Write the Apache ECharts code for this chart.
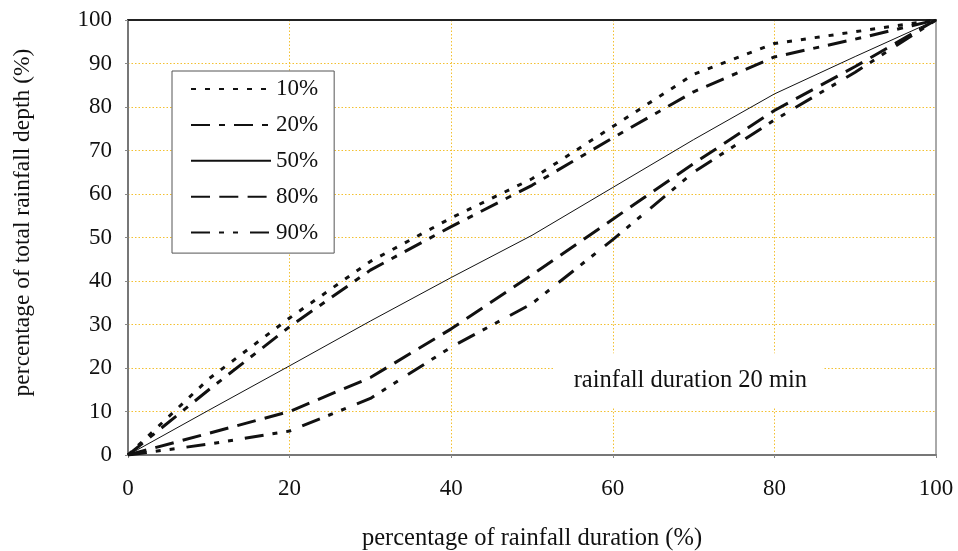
<!DOCTYPE html>
<html>
<head>
<meta charset="utf-8">
<script src="https://cdn.jsdelivr.net/npm/echarts@6/dist/echarts.min.js"></script>
<style>
html,body{margin:0;padding:0;background:#fff;}
#c{width:958px;height:551px;}
</style>
</head>
<body>
<div id="c"></div>
<script>
const durationPct = [0, 10, 20, 30, 40, 50, 60, 70, 80, 90, 100];
const seriesNames = ['10%', '20%', '50%', '80%', '90%'];
const depth10 = [0, 17.5, 31.5, 44.5, 54.5, 63.5, 75.5, 87.5, 94.6, 97.3, 100];
const depth20 = [0, 15, 29.5, 42.5, 52.5, 62, 72.9, 83.5, 91.5, 95.6, 100];
const depth50 = [0, 10.3, 20.5, 30.8, 40.8, 50.5, 61.5, 72.5, 83, 91.6, 100];
const depth80 = [0, 5, 10, 17.8, 29, 41.4, 54.2, 67, 79.2, 89.3, 100];
const depth90 = [0, 2.5, 5.5, 13, 24.8, 34.8, 49.5, 65, 77, 88, 100];
const xTicks = [0, 20, 40, 60, 80, 100];
const yTicks = [0, 10, 20, 30, 40, 50, 60, 70, 80, 90, 100];
const annotation = 'rainfall duration 20 min';

const allDepths = [depth10, depth20, depth50, depth80, depth90];
const styles = [
  {width: 3, type: [5, 9]},
  {width: 3, type: [19, 9, 6, 9]},
  {width: 1, type: 'solid'},
  {width: 3, type: [19, 9.3]},
  {width: 3, type: [19, 9, 5, 9, 5, 12]}
];
const font = 'Liberation Serif';
const gridLine = {show: true, showMinLine: false, showMaxLine: false,
  lineStyle: {color: '#f3c030', type: [1.5, 2], width: 1}};

const chart = echarts.init(document.getElementById('c'), null, {renderer: 'canvas'});
chart.setOption({
  animation: false,
  backgroundColor: '#fff',
  grid: {left: 128, right: 22, top: 20, bottom: 96, outerBoundsMode: 'none', containLabel: false,
    show: true, borderColor: '#555', borderWidth: 1, backgroundColor: 'transparent'},
  legend: {
    data: seriesNames,
    orient: 'vertical',
    left: 172, top: 71,
    padding: [6.5, 16, 9, 18],
    itemWidth: 80, itemHeight: 14, itemGap: 12.9,
    backgroundColor: '#fff',
    borderColor: '#555', borderWidth: 1,
    itemStyle: {opacity: 0},
    textStyle: {fontFamily: font, fontSize: 23, color: '#111'}
  },
  xAxis: [{
    type: 'value', min: 0, max: 100, interval: 20,
    name: 'percentage of rainfall duration (%)',
    nameLocation: 'middle', nameGap: 71,
    nameTextStyle: {fontFamily: font, fontSize: 24.5, color: '#111'},
    axisLine: {show: true, lineStyle: {color: '#777', width: 2}},
    axisTick: {show: true, length: 3, lineStyle: {color: '#888'}},
    axisLabel: {fontFamily: font, fontSize: 23, color: '#111', margin: 22,
      formatter: v => xTicks.includes(v) ? String(v) : ''},
    splitLine: gridLine
  }, {
    type: 'value', min: 0, max: 100, position: 'top',
    axisLine: {show: true, lineStyle: {color: '#222', width: 2}},
    axisTick: {show: false}, axisLabel: {show: false}, splitLine: {show: false}
  }],
  yAxis: {
    type: 'value', min: 0, max: 100, interval: 10,
    name: 'percentage of total rainfall depth (%)',
    nameLocation: 'middle', nameGap: 93,
    nameTextStyle: {fontFamily: font, fontSize: 23.5, color: '#111', padding: [0, 0, 0, 30]},
    axisLine: {show: true, lineStyle: {color: '#777', width: 2}},
    axisTick: {show: true, length: 3, lineStyle: {color: '#888'}},
    axisLabel: {fontFamily: font, fontSize: 23, color: '#111', margin: 16,
      formatter: v => yTicks.includes(v) ? String(v) : ''},
    splitLine: gridLine
  },
  series: seriesNames.map((n, i) => ({
    name: n, type: 'line', symbol: 'none', showSymbol: false,
    xAxisIndex: 0,
    data: durationPct.map((x, j) => [x, allDepths[i][j]]),
    lineStyle: {color: '#111', width: styles[i].width, type: styles[i].type},
    itemStyle: {color: '#111'},
    z: 3
  }))
});

const boxTL = chart.convertToPixel({xAxisIndex: 0, yAxisIndex: 0}, [52.8, 23.4]);
const boxBR = chart.convertToPixel({xAxisIndex: 0, yAxisIndex: 0}, [86, 11]);
const txt = chart.convertToPixel({xAxisIndex: 0, yAxisIndex: 0}, [69.6, 17]);
chart.setOption({
  graphic: [{
    type: 'group', z: 2,
    children: [
      {type: 'rect', shape: {x: boxTL[0], y: boxTL[1], width: boxBR[0] - boxTL[0], height: boxBR[1] - boxTL[1]}, style: {fill: '#fff'}},
      {type: 'text', style: {text: annotation, x: txt[0], y: txt[1], align: 'center', verticalAlign: 'middle',
        font: '24.5px "Liberation Serif"', fill: '#111'}}
    ]
  }]
});
</script>
</body>
</html>
